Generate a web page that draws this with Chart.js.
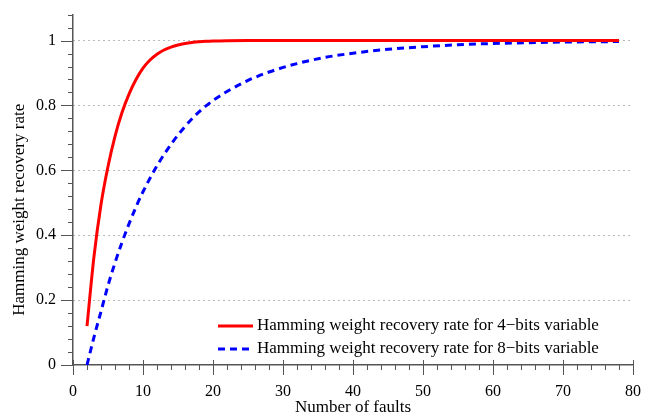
<!DOCTYPE html>
<html>
<head>
<meta charset="utf-8">
<script src="https://cdn.jsdelivr.net/npm/chart.js@4/dist/chart.umd.min.js"></script>
<style>
  html, body { margin: 0; padding: 0; background: #fff; }
  #wrap { width: 656px; height: 420px; }
</style>
</head>
<body>
<div id="wrap"><canvas id="chart"></canvas></div>
<script>
// number of faults for each curve
var faults4 = [2, 3, 4, 5, 6, 7, 8, 9, 10, 11, 12, 13, 14, 15, 16, 17, 18, 19, 20, 22, 25, 30, 40, 50, 60, 70, 78];
var rate4 = [0.12, 0.335, 0.495, 0.612, 0.705, 0.778, 0.835, 0.88, 0.915, 0.94, 0.958, 0.971, 0.98, 0.9865, 0.991, 0.994, 0.996, 0.9975, 0.9985, 0.9995, 1, 1, 1, 1, 1, 1, 1];

var faults8 = [2, 3, 4, 5, 6, 7, 8, 9, 10, 12, 14, 16, 18, 20, 22, 25, 28, 32, 36, 40, 45, 50, 55, 60, 65, 70, 78];
var rate8 = [0, 0.086, 0.165, 0.245, 0.315, 0.378, 0.435, 0.487, 0.534, 0.614, 0.68, 0.735, 0.78, 0.815, 0.843, 0.877, 0.903, 0.929, 0.948, 0.961, 0.973, 0.981, 0.987, 0.991, 0.9935, 0.9953, 0.997];

var seriesLabels = [
    "Hamming weight recovery rate for 4\u2212bits variable",
    "Hamming weight recovery rate for 8\u2212bits variable"
];

var xTicks = [0, 10, 20, 30, 40, 50, 60, 70, 80];
var yTicks = [0, 0.2, 0.4, 0.6, 0.8, 1];
var yTitle = 'Hamming weight recovery rate';

function toPoints(xs, ys) {
    return xs.map(function (x, i) { return { x: x, y: ys[i] }; });
}

var axisColor = '#555';
var serif = "'Liberation Serif', 'DejaVu Serif', serif";

// minor and major tick marks outside the axes, plus the y title
var tickMarks = {
    id: 'tickMarks',
    afterDraw: function (chart) {
        var ctx = chart.ctx;
        var xs = chart.scales.x, ys = chart.scales.y;
        var area = chart.chartArea;
        ctx.save();
        ctx.strokeStyle = axisColor;
        ctx.lineWidth = 1;
        ctx.beginPath();
        for (var v = 0; v <= 80; v += 2) {
            var px = Math.round(xs.getPixelForValue(v)) + 0.5;
            var major = xTicks.indexOf(v) >= 0;
            ctx.moveTo(px, area.bottom - (major ? 5 : 0));
            ctx.lineTo(px, area.bottom + (major ? 10 : 5));
        }
        for (var i = 0; i <= 27; i++) {
            var val = i * 0.04;
            var py = Math.round(ys.getPixelForValue(val)) + 0.5;
            var maj = i % 5 === 0;
            ctx.moveTo(area.left, py);
            ctx.lineTo(area.left - (maj ? 12 : 5), py);
        }
        ctx.stroke();

        // y title, centred a little below the middle like the original
        ctx.translate(20, (ys.getPixelForValue(0) + ys.getPixelForValue(1)) / 2 + 7);
        ctx.rotate(-Math.PI / 2);
        ctx.fillStyle = '#000';
        ctx.font = '17px ' + serif;
        ctx.textAlign = 'center';
        ctx.textBaseline = 'middle';
        ctx.fillText(yTitle, 0, 0);
        ctx.restore();
    }
};

// legend drawn inside the plot area, bottom right
var innerLegend = {
    id: 'innerLegend',
    afterDraw: function (chart) {
        var ctx = chart.ctx;
        var left = 218, top = 326, rowH = 23;
        ctx.save();
        chart.data.datasets.forEach(function (ds, i) {
            var y = top + i * rowH;
            ctx.strokeStyle = ds.borderColor;
            ctx.lineWidth = ds.borderWidth;
            ctx.setLineDash(ds.borderDash || []);
            ctx.beginPath();
            ctx.moveTo(left, y);
            ctx.lineTo(left + 35, y);
            ctx.stroke();
            ctx.setLineDash([]);
            ctx.fillStyle = '#000';
            ctx.font = '17px ' + serif;
            ctx.textBaseline = 'middle';
            ctx.fillText(ds.label, left + 39, y);
        });
        ctx.restore();
    }
};

new Chart(document.getElementById('chart'), {
    type: 'line',
    data: {
        datasets: [
            {
                label: seriesLabels[0],
                data: toPoints(faults4, rate4),
                borderColor: '#ff0000',
                borderWidth: 3,
                pointRadius: 0,
                cubicInterpolationMode: 'monotone'
            },
            {
                label: seriesLabels[1],
                data: toPoints(faults8, rate8),
                borderColor: '#0000ff',
                borderWidth: 3,
                borderDash: [7, 5],
                pointRadius: 0,
                cubicInterpolationMode: 'monotone'
            }
        ]
    },
    options: {
        responsive: true,
        maintainAspectRatio: false,
        animation: false,
        layout: { padding: { left: 0, top: 13, right: 23, bottom: 0 } },
        plugins: {
            legend: { display: false },
            tooltip: { enabled: false }
        },
        scales: {
            x: {
                type: 'linear',
                min: 0,
                max: 80,
                ticks: {
                    stepSize: 10,
                    padding: 5,
                    color: '#000',
                    font: { family: serif, size: 16 },
                    maxRotation: 0
                },
                grid: { display: false, drawTicks: true, tickLength: 12, tickColor: 'rgba(0,0,0,0)' },
                border: { display: true, color: axisColor, width: 1.5 },
                title: {
                    display: true,
                    text: 'Number of faults',
                    color: '#000',
                    font: { family: serif, size: 17 },
                    padding: { top: 0, bottom: 2 }
                },
                afterFit: function (scale) { scale.height = 55; }
            },
            y: {
                min: 0,
                max: 1.08,
                ticks: {
                    stepSize: 0.2,
                    padding: 5,
                    color: '#000',
                    font: { family: serif, size: 16 },
                    callback: function (v) {
                        return yTicks.indexOf(Math.round(v * 10) / 10) >= 0 && v <= 1.001 ? Math.round(v * 10) / 10 : null;
                    }
                },
                grid: {
                    drawTicks: true,
                    tickLength: 12,
                    tickColor: 'rgba(0,0,0,0)',
                    color: function (c) { return c.tick && c.tick.value === 0 ? 'rgba(0,0,0,0)' : '#777'; },
                    lineWidth: 1
                },
                border: { display: true, color: axisColor, width: 1.5, dash: [1, 4] },
                title: { display: false },
                afterFit: function (scale) { scale.width = 73; }
            }
        }
    },
    plugins: [tickMarks, innerLegend]
});
</script>
</body>
</html>
